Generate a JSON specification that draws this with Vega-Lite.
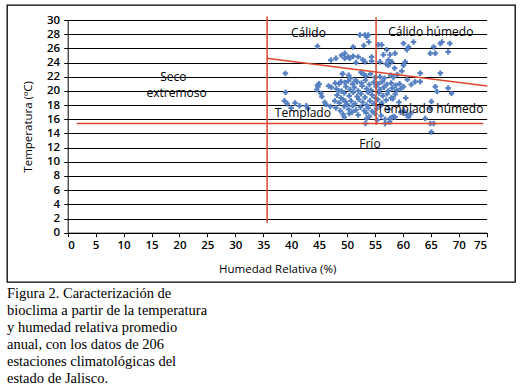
{
  "$schema": "https://vega.github.io/schema/vega-lite/v6.json",
  "width": 508,
  "height": 277,
  "autosize": "none",
  "padding": {"left": 7, "top": 5, "right": 13, "bottom": 103},
  "background": "white",
  "config": {
    "view": {"stroke": "black", "strokeWidth": 1.3, "fill": "white"},
    "axis": {"labelFont": "Open Sans", "titleFont": "Open Sans", "labelColor": "black", "titleColor": "black", "domainColor": "black", "tickColor": "black", "labelFontSize": 11.5, "titleFontSize": 11.5, "titleFontWeight": "normal", "labelFontWeight": 600, "labelOverlap": false}
  },
  "title": {
    "text": ["Figura 2. Caracterización de", "bioclima a partir de la temperatura", "y humedad relativa promedio", "anual, con los datos de 206", "estaciones climatológicas del", "estado de Jalisco."],
    "orient": "bottom", "anchor": "start", "frame": "bounds",
    "font": "Liberation Serif", "fontSize": 14.5, "fontWeight": "normal", "color": "black",
    "lineHeight": 17, "offset": 5, "baseline": "top"
  },
  "datasets": {
    "pts": [
      {"h":38.96,"t":22.47},{"h":39.0,"t":19.8},{"h":38.8,"t":18.6},{"h":40.7,"t":18.3},{"h":42.7,"t":17.9},
      {"h":44.7,"t":26.3},{"h":44.7,"t":20.8},{"h":44.6,"t":20.2},{"h":45.3,"t":19.65},{"h":45.5,"t":19.2},
      {"h":46.2,"t":18.1},{"h":47.1,"t":24.35},{"h":48.0,"t":24.6},{"h":46.7,"t":20.7},{"h":47.9,"t":21.1},
      {"h":48.9,"t":21.3},{"h":49.2,"t":22.4},{"h":49.6,"t":25.3},{"h":49.6,"t":24.6},{"h":50.5,"t":24.6},
      {"h":51.1,"t":24.9},{"h":52.0,"t":24.8},{"h":51.1,"t":26.2},{"h":52.3,"t":27.9},{"h":53.2,"t":27.9},
      {"h":53.5,"t":27.6},{"h":53.9,"t":26.9},{"h":53.8,"t":27.9},{"h":54.4,"t":24.8},{"h":54.4,"t":24.2},
      {"h":53.2,"t":24.1},{"h":55.6,"t":26.5},{"h":56.2,"t":26.5},{"h":55.9,"t":24.1},{"h":56.5,"t":25.1},
      {"h":57.1,"t":25.8},{"h":57.4,"t":24.35},{"h":58.0,"t":24.1},{"h":57.7,"t":25.1},{"h":58.6,"t":25.3},
      {"h":60.1,"t":26.7},{"h":60.7,"t":25.8},{"h":61.9,"t":26.9},{"h":60.4,"t":24.1},{"h":60.1,"t":23.6},
      {"h":57.4,"t":23.6},{"h":61.0,"t":26.2},{"h":64.9,"t":25.3},{"h":65.5,"t":26.2},{"h":65.8,"t":25.3},
      {"h":66.7,"t":26.7},{"h":67.0,"t":26.9},{"h":68.4,"t":26.7},{"h":68.1,"t":25.5},{"h":63.1,"t":22.5},
      {"h":62.2,"t":21.3},{"h":63.1,"t":21.3},{"h":60.1,"t":20.6},{"h":66.7,"t":22.5},{"h":65.8,"t":20.6},
      {"h":66.1,"t":19.9},{"h":68.1,"t":20.4},{"h":68.7,"t":19.65},{"h":65.1,"t":18.5},{"h":64.9,"t":17.5},
      {"h":64.0,"t":16.1},{"h":64.9,"t":15.4},{"h":65.5,"t":15.4},{"h":65.1,"t":14.2},{"h":60.7,"t":16.6},
      {"h":61.0,"t":16.3},{"h":57.7,"t":16.1},{"h":58.3,"t":16.4},{"h":56.8,"t":15.4},{"h":53.3,"t":15.4},
      {"h":53.5,"t":16.1},
      {"h":49.2,"t":22.4},{"h":50.3,"t":22.2},{"h":50.6,"t":21.8},{"h":52.5,"t":22.6},{"h":53.0,"t":22.3},
      {"h":53.4,"t":22.1},{"h":54.2,"t":22.4},{"h":55.0,"t":21.9},{"h":55.9,"t":22.0},{"h":56.7,"t":21.8},
      {"h":57.8,"t":22.2},{"h":58.3,"t":21.9},{"h":59.0,"t":22.3},{"h":51.5,"t":21.5},
      {"h":48.6,"t":21.0},{"h":49.6,"t":21.2},{"h":50.2,"t":21.4},{"h":51.0,"t":21.0},{"h":51.8,"t":21.3},
      {"h":52.6,"t":21.1},{"h":53.3,"t":21.5},{"h":54.0,"t":20.9},{"h":54.8,"t":21.2},{"h":55.6,"t":21.0},
      {"h":56.3,"t":21.3},{"h":57.1,"t":20.9},{"h":57.9,"t":21.1},{"h":58.7,"t":20.8},{"h":59.4,"t":21.0},
      {"h":47.2,"t":20.5},{"h":48.1,"t":20.3},{"h":49.0,"t":20.0},{"h":49.8,"t":20.6},{"h":50.5,"t":20.2},
      {"h":51.3,"t":20.5},{"h":52.0,"t":20.0},{"h":52.7,"t":20.7},{"h":53.5,"t":20.3},{"h":54.3,"t":20.1},
      {"h":55.2,"t":20.6},{"h":55.9,"t":20.2},{"h":56.6,"t":20.5},{"h":57.4,"t":20.0},{"h":58.1,"t":20.4},
      {"h":58.9,"t":20.1},{"h":59.6,"t":20.3},{"h":48.5,"t":20.0},
      {"h":48.2,"t":19.4},{"h":48.9,"t":19.0},{"h":49.5,"t":19.7},{"h":50.4,"t":19.3},{"h":51.1,"t":19.8},
      {"h":51.8,"t":19.2},{"h":52.5,"t":19.6},{"h":53.2,"t":19.1},{"h":53.8,"t":19.8},{"h":54.5,"t":19.4},
      {"h":55.1,"t":19.0},{"h":55.7,"t":19.7},{"h":56.4,"t":19.3},{"h":57.2,"t":19.6},{"h":57.9,"t":19.0},
      {"h":58.6,"t":19.5},
      {"h":47.8,"t":18.6},{"h":48.6,"t":18.3},{"h":49.3,"t":18.8},{"h":50.0,"t":18.1},{"h":50.7,"t":18.6},
      {"h":51.4,"t":18.2},{"h":52.1,"t":18.8},{"h":52.8,"t":18.4},{"h":53.5,"t":18.0},{"h":54.1,"t":18.6},
      {"h":54.8,"t":18.2},{"h":55.5,"t":18.8},{"h":56.2,"t":18.3},{"h":57.0,"t":18.7},{"h":58.2,"t":18.9},
      {"h":49.7,"t":18.5},
      {"h":48.0,"t":17.6},{"h":48.8,"t":17.2},{"h":49.5,"t":17.8},{"h":50.3,"t":17.4},{"h":51.0,"t":17.9},
      {"h":51.6,"t":17.3},{"h":52.4,"t":17.7},{"h":53.1,"t":17.2},{"h":53.8,"t":17.6},{"h":54.5,"t":17.1},
      {"h":55.3,"t":17.5},{"h":56.0,"t":17.9},{"h":57.5,"t":17.4},{"h":50.9,"t":17.0},
      {"h":49.3,"t":16.7},{"h":49.5,"t":16.3},{"h":50.4,"t":16.8},{"h":52.0,"t":16.6},{"h":53.4,"t":16.9},
      {"h":54.0,"t":16.4},{"h":55.0,"t":16.8},{"h":56.1,"t":16.5},{"h":58.0,"t":16.2},{"h":58.6,"t":16.3},
      {"h":59.6,"t":17.0},
      {"h":44.8,"t":20.6},{"h":45.0,"t":21.0},{"h":46.0,"t":18.4},{"h":47.0,"t":17.8},{"h":43.0,"t":17.5},
      {"h":41.5,"t":17.9},{"h":40.0,"t":17.6},{"h":39.3,"t":18.2},{"h":49.0,"t":25.0},{"h":50.2,"t":24.8},
      {"h":52.8,"t":24.4},{"h":53.0,"t":26.4},{"h":51.6,"t":24.0},{"h":57.0,"t":23.8},{"h":58.5,"t":23.2},
      {"h":59.8,"t":22.8},{"h":60.8,"t":21.6},{"h":61.5,"t":20.9},{"h":60.5,"t":19.0},{"h":59.3,"t":18.4},
      {"h":60.2,"t":17.2},{"h":61.4,"t":16.8},{"h":56.8,"t":16.0},{"h":55.4,"t":15.9},{"h":57.6,"t":15.6}
    ],
    "lines": [
      {"x1":35.7,"y1":1.4,"x2":35.7,"y2":30.5},
      {"x1":55.2,"y1":15.2,"x2":55.2,"y2":30.4},
      {"x1":1.6,"y1":15.4,"x2":74.4,"y2":15.4},
      {"x1":35.6,"y1":24.6,"x2":75.1,"y2":20.7}
    ],
    "labels": [
      {"label":"Cálido","x":43.1,"y":28.1},
      {"label":"Cálido húmedo","x":65.0,"y":28.25},
      {"label":"Seco","x":18.9,"y":21.9},
      {"label":"extremoso","x":19.5,"y":19.65},
      {"label":"Templado","x":42.1,"y":16.9},
      {"label":"Templado húmedo","x":64.9,"y":17.5},
      {"label":"Frío","x":54.1,"y":12.5}
    ]
  },
  "encoding": {
    "x": {"type": "quantitative", "scale": {"domain": [0, 75], "range": [60.7, 479.7], "nice": false, "zero": false},
      "axis": {"values": [0,5,10,15,20,25,30,35,40,45,50,55,60,65,70,75], "title": "Humedad Relativa (%)", "grid": false, "tickSize": 4, "labelPadding": 3, "titlePadding": 12, "offset": -49.3}},
    "y": {"type": "quantitative", "scale": {"domain": [0, 30], "range": [227.7, 15], "nice": false, "zero": false},
      "axis": {"values": [0,2,4,6,8,10,12,14,16,18,20,22,24,26,28,30], "title": "Temperatura (ºC)", "grid": true, "gridColor": "black", "gridOpacity": 1, "gridWidth": 1, "tickSize": 4, "labelPadding": 4, "titlePadding": 13, "offset": -60.7}}
  },
  "layer": [
    {
      "data": {"name": "pts"},
      "mark": {"type": "point", "shape": "cross", "filled": true, "size": 30, "color": "#5680c2", "opacity": 1},
      "encoding": {
        "x": {"field": "h"},
        "y": {"field": "t"}
      }
    },
    {
      "data": {"name": "lines"},
      "mark": {"type": "rule", "color": "#d9482e", "strokeWidth": 1.5},
      "encoding": {
        "x": {"field": "x1"},
        "y": {"field": "y1"},
        "x2": {"field": "x2"},
        "y2": {"field": "y2"}
      }
    },
    {
      "data": {"name": "labels"},
      "mark": {"type": "text", "font": "Open Sans", "fontSize": 12, "color": "black"},
      "encoding": {
        "x": {"field": "x"},
        "y": {"field": "y"},
        "text": {"field": "label"}
      }
    }
  ]
}
